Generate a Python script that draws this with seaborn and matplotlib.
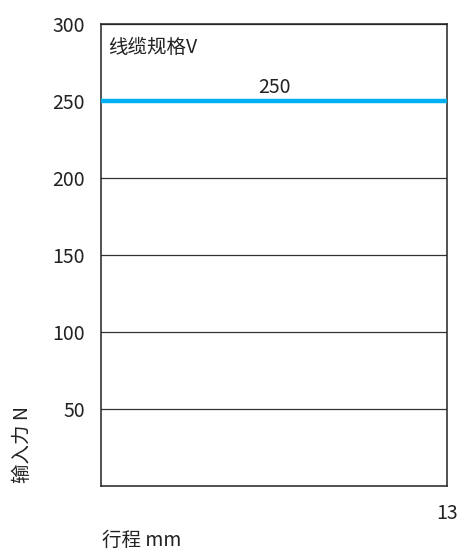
import matplotlib
matplotlib.use('Agg')
import matplotlib.pyplot as plt
import seaborn as sns
import pandas as pd

# data
stroke_mm = [0, 13]
force_n = [250, 250]
y_ticks = [50, 100, 150, 200, 250, 300]
x_ticks = [13]
spec_label = '线缆规格V'
value_label = '250'


def draw_figure():
    sns.set_style('white')
    plt.rcParams['font.family'] = ['Noto Sans CJK SC', 'DejaVu Sans']

    fig = plt.figure(figsize=(4.62, 5.55), dpi=100)
    ax = fig.add_axes([0.2186, 0.1243, 0.749, 0.8324])

    df = pd.DataFrame({'stroke': stroke_mm, 'force': force_n})
    sns.lineplot(data=df, x='stroke', y='force', ax=ax, color='#00b0f0',
                 linewidth=3.2, zorder=3)

    ax.set_xlim(0, 13)
    ax.set_ylim(0, 300)
    ax.set_yticks(y_ticks)
    ax.set_xticks(x_ticks)
    ax.set_xticklabels([str(t) for t in x_ticks])
    ax.tick_params(axis='y', length=0, pad=11.5, labelsize=14, colors='#222222')
    ax.tick_params(axis='x', length=0, pad=12, labelsize=14, colors='#222222')

    ax.grid(axis='y', color='#333333', linewidth=0.9)
    ax.grid(axis='x', visible=False)
    for sp in ax.spines.values():
        sp.set_visible(True)
        sp.set_color('#222222')
        sp.set_linewidth(1.1)

    ax.text(0.02, 0.95, spec_label, transform=ax.transAxes, fontsize=14,
            ha='left', va='center', color='#222222')
    ax.text(6.5, 252, value_label, fontsize=14, ha='center', va='bottom',
            color='#222222')

    ax.set_xlabel('行程 mm', fontsize=14, color='#222222', ha='left', va='center')
    ax.xaxis.set_label_coords(0.002, -0.117)
    ax.set_ylabel('输入力 N', fontsize=14, color='#222222', va='center')
    ax.yaxis.set_label_coords(-0.228, 0.089)

    fig.savefig('out.png', dpi=100)


def main():
    draw_figure()


if __name__ == '__main__':
    main()
